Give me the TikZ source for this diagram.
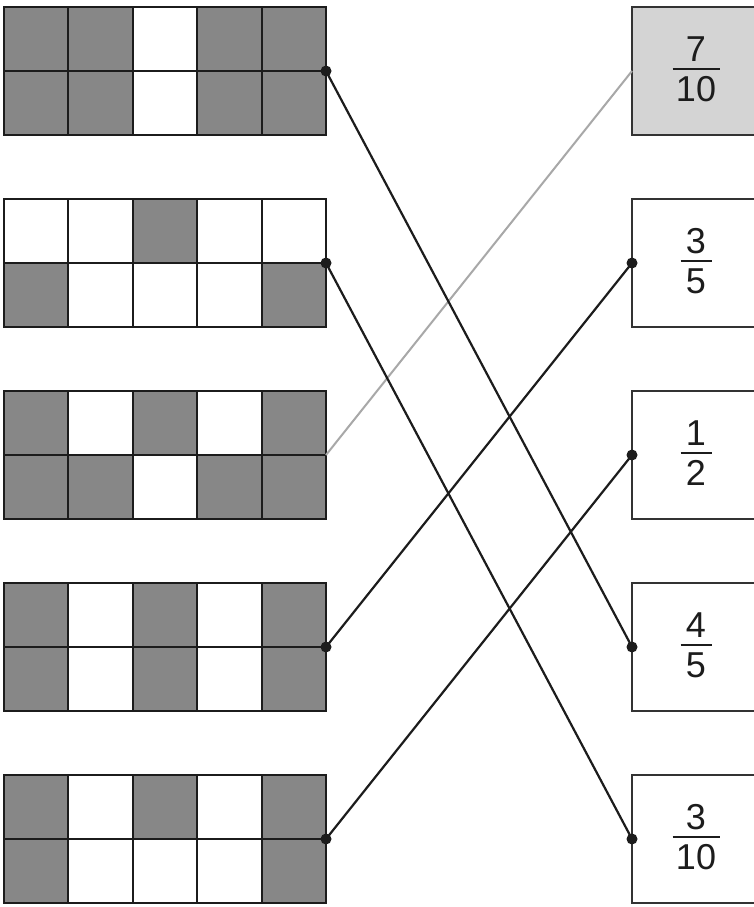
\documentclass[tikz,border=0pt]{standalone}
\usepackage{fontspec}
\setmainfont{Liberation Sans}
\definecolor{shadecol}{HTML}{878787}
\definecolor{lightbox}{HTML}{D4D4D4}
\definecolor{greyline}{HTML}{A8A8A8}
\definecolor{inkcol}{HTML}{1C1C1C}
\definecolor{bordercol}{HTML}{333333}
\begin{document}
\begin{tikzpicture}[x=1pt,y=-1pt,
  gridbox/.style={minimum width=322pt,minimum height=128pt,inner sep=0pt,outer sep=0pt},
  cellfill/.style={fill=shadecol},
  gridline/.style={draw=inkcol,line width=2pt},
  ansbox/.style={draw=bordercol,line width=2pt,minimum width=128pt,minimum height=128pt,inner sep=0pt,outer sep=0pt},
  digit/.style={inner sep=0pt,font=\fontsize{36}{40}\selectfont,text=inkcol},
  fracbar/.style={draw=inkcol,line width=2pt},
  conn/.style={draw=inkcol,line width=2.2pt},
  greyconn/.style={draw=greyline,line width=2pt},
  dot/.style={fill=inkcol}]
\useasboundingbox (0,0) rectangle (754,907);
\clip (0,0) rectangle (754,907);
\fill[white] (0,0) rectangle (754,907);
% grid nodes
\node[gridbox] (g1) at (165,71) {};
\node[gridbox] (g2) at (165,263) {};
\node[gridbox] (g3) at (165,455) {};
\node[gridbox] (g4) at (165,647) {};
\node[gridbox] (g5) at (165,839) {};
% shaded cells
\foreach \c/\r in {0/0,1/0,3/0,4/0,0/1,1/1,3/1,4/1}
  \fill[cellfill] ({4+64.4*\c},{7+64*\r}) rectangle ++(64.4,64);
\foreach \c/\r in {2/0,0/1,4/1}
  \fill[cellfill] ({4+64.4*\c},{199+64*\r}) rectangle ++(64.4,64);
\foreach \c/\r in {0/0,2/0,4/0,0/1,1/1,3/1,4/1}
  \fill[cellfill] ({4+64.4*\c},{391+64*\r}) rectangle ++(64.4,64);
\foreach \c/\r in {0/0,2/0,4/0,0/1,2/1,4/1}
  \fill[cellfill] ({4+64.4*\c},{583+64*\r}) rectangle ++(64.4,64);
\foreach \c/\r in {0/0,2/0,4/0,0/1,4/1}
  \fill[cellfill] ({4+64.4*\c},{775+64*\r}) rectangle ++(64.4,64);
% grid lines
\foreach \g in {g1,g2,g3,g4,g5}{
  \draw[gridline] (\g.north west) rectangle (\g.south east);
  \draw[gridline] (\g.west) -- (\g.east);
  \foreach \k in {1,2,3,4}
    \draw[gridline] ([xshift={64.4*\k}]\g.north west) -- ([xshift={64.4*\k}]\g.south west);
}
% answer boxes
\node[ansbox,fill=lightbox] (r1) at (696,71) {};
\node[ansbox] (r2) at (696,263) {};
\node[ansbox] (r3) at (696,455) {};
\node[ansbox] (r4) at (696,647) {};
\node[ansbox] (r5) at (696,839) {};
% fractions
\foreach \b/\n/\d/\w in {r1/7/10/23.5, r2/3/5/15.5, r3/1/2/15.5, r4/4/5/15.5, r5/3/10/23.5}{
  \node[digit] (\b n) at ([yshift=22]\b.center) {\n};
  \node[digit] (\b d) at ([yshift=-18]\b.center) {\d};
  \draw[fracbar] ([xshift=-\w,yshift=2]\b.center) -- ([xshift=\w,yshift=2]\b.center);
}
% connectors
\draw[greyconn] (g3.east) -- (r1.west);
\draw[conn] (g1.east) -- (r4.west);
\draw[conn] (g2.east) -- (r5.west);
\draw[conn] (g4.east) -- (r2.west);
\draw[conn] (g5.east) -- (r3.west);
\foreach \p in {g1.east,g2.east,g4.east,g5.east,r2.west,r3.west,r4.west,r5.west}
  \fill[dot] (\p) circle (5.5);
\end{tikzpicture}
\end{document}
